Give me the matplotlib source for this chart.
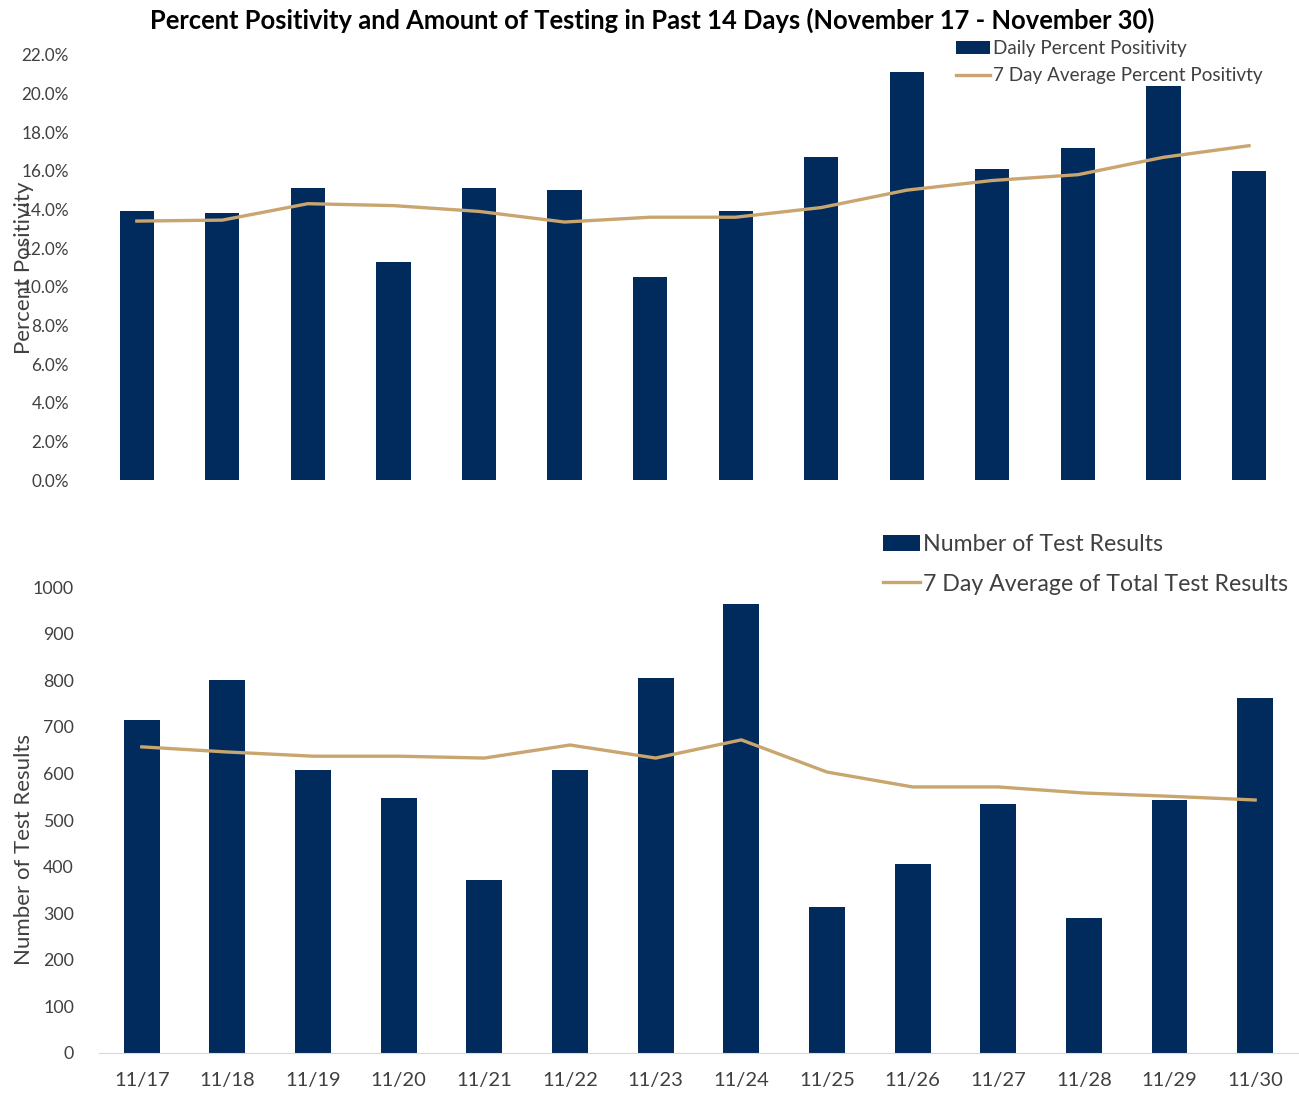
import matplotlib
matplotlib.use('Agg')
import matplotlib.pyplot as plt
from matplotlib.ticker import FuncFormatter, MultipleLocator

plt.rcParams['font.family'] = ['Lato', 'DejaVu Sans']

dates = ["11/17", "11/18", "11/19", "11/20", "11/21", "11/22", "11/23",
         "11/24", "11/25", "11/26", "11/27", "11/28", "11/29", "11/30"]

daily_pos = [13.9, 13.8, 15.1, 11.3, 15.1, 15.0, 10.5,
             13.9, 16.7, 21.1, 16.1, 17.2, 20.4, 16.0]
avg_pos = [13.4, 13.45, 14.3, 14.2, 13.9, 13.35, 13.6,
           13.6, 14.1, 15.0, 15.5, 15.8, 16.7, 17.3]

tests = [715, 800, 607, 547, 371, 607, 805,
         963, 313, 405, 534, 290, 543, 762]
avg_tests = [657, 646, 637, 637, 633, 661, 633,
             672, 603, 571, 571, 558, 551, 543]

navy = "#002B5C"
tan = "#C9A56F"
txt = "#404040"

fig = plt.figure(figsize=(12.99, 10.93), dpi=100)
x = list(range(len(dates)))

# top chart: percent positivity
ax1 = fig.add_axes([0.0724, 0.5608, 0.922, 0.389])
b1 = ax1.bar(x, daily_pos, width=0.4, color=navy, label="Daily Percent Positivity")
l1, = ax1.plot(x, avg_pos, color=tan, lw=2.4, label="7 Day Average Percent Positivty")
ax1.set_xlim(-0.5, len(dates) - 0.5)
ax1.set_ylim(0, 22)
ax1.yaxis.set_major_locator(MultipleLocator(2))
ax1.yaxis.set_major_formatter(FuncFormatter(lambda v, p: f"{v:.1f}%"))
ax1.set_xticks([])
for s in ax1.spines.values():
    s.set_visible(False)
ax1.tick_params(axis='y', length=0, labelsize=12.3, labelcolor=txt, pad=18)
ax1.set_ylabel("Percent Positivity", fontsize=16, color=txt)
ax1.yaxis.set_label_coords(-0.05, 0.5)
ax1.legend(handles=[b1, l1], loc='upper left', bbox_to_anchor=(0.729, 0.972),
           bbox_transform=fig.transFigure, frameon=False, fontsize=13.6,
           handlelength=1.8, handletextpad=0.15, labelspacing=0.55, borderpad=0,
           labelcolor=txt)

fig.text(0.502, 0.981, "Percent Positivity and Amount of Testing in Past 14 Days (November 17 - November 30)",
         ha='center', va='center', fontsize=18.4, fontweight='bold', color='black')

# bottom chart: number of tests
ax2 = fig.add_axes([0.0762, 0.0366, 0.923, 0.4263])
b2 = ax2.bar(x, tests, width=0.42, color=navy, label="Number of Test Results")
l2, = ax2.plot(x, avg_tests, color=tan, lw=2.4, label="7 Day Average of Total Test Results")
ax2.set_xlim(-0.5, len(dates) - 0.5)
ax2.set_ylim(0, 1000)
ax2.yaxis.set_major_locator(MultipleLocator(100))
ax2.set_xticks(x)
ax2.set_xticklabels(dates)
for k in ['top', 'right', 'left']:
    ax2.spines[k].set_visible(False)
ax2.spines['bottom'].set_color('#D9D9D9')
ax2.tick_params(axis='y', length=0, labelsize=12.8, labelcolor=txt, pad=18)
ax2.tick_params(axis='x', length=0, labelsize=14.5, labelcolor=txt, pad=14)
ax2.set_ylabel("Number of Test Results", fontsize=16, color=txt)
ax2.yaxis.set_label_coords(-0.054, 0.436)
ax2.legend(handles=[b2, l2], loc='upper left', bbox_to_anchor=(0.671, 0.522),
           bbox_transform=fig.transFigure, frameon=False, fontsize=16.7,
           handlelength=1.6, handletextpad=0.1, labelspacing=0.8, borderpad=0,
           labelcolor=txt)

fig.savefig("out.png", dpi=100)
